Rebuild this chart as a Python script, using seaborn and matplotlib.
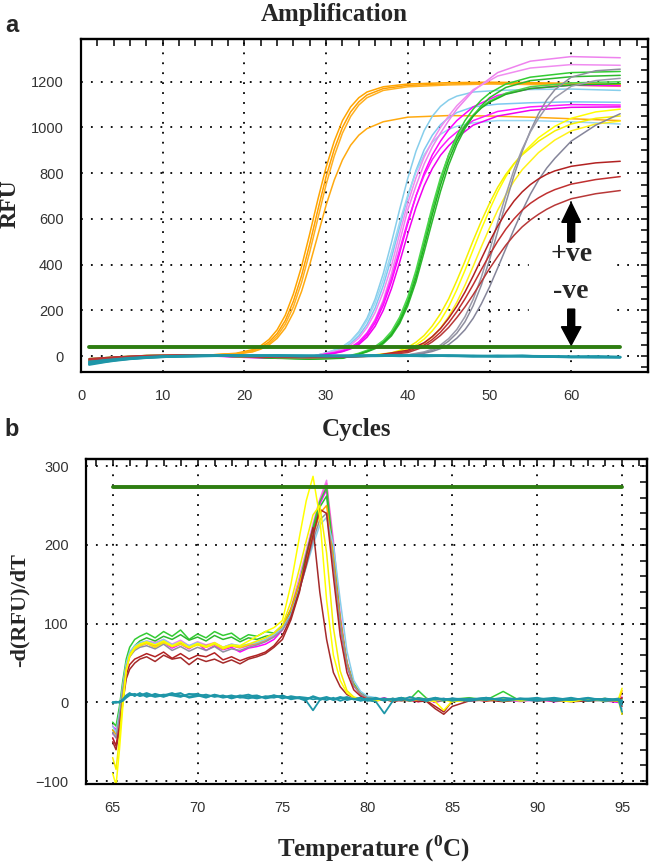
import numpy as np
import pandas as pd
import matplotlib
matplotlib.use("Agg")
import matplotlib.pyplot as plt
from matplotlib.patches import Rectangle
from matplotlib.ticker import MultipleLocator
import seaborn as sns

# ---------------- panel a : amplification (RFU vs cycle) ----------------
amp_threshold = 38
amp_span = [1, 66]

cyc_orange = [1, 4, 8, 12, 16, 19, 21, 22, 23, 24, 25, 26, 27, 28, 29, 30, 31, 32, 33, 34, 35, 37, 40, 45, 50, 55, 60, 66]
rfu_orange = [
    [-18, -8, 0, 3, 5, 12, 28, 45, 72, 114, 178, 272, 392, 535, 686, 826, 940, 1030, 1090, 1130, 1155, 1178, 1190, 1196, 1198, 1196, 1193, 1188],
    [-14, -6, 1, 4, 5, 10, 23, 38, 61, 98, 155, 240, 352, 490, 640, 785, 905, 1000, 1068, 1112, 1142, 1170, 1184, 1190, 1193, 1192, 1189, 1183],
    [-20, -10, -1, 2, 4, 9, 20, 33, 54, 87, 139, 216, 322, 455, 603, 750, 875, 975, 1048, 1098, 1130, 1162, 1178, 1186, 1190, 1188, 1185, 1180],
    [-16, -8, 0, 3, 4, 8, 18, 30, 48, 77, 122, 190, 283, 400, 530, 660, 770, 858, 922, 966, 995, 1025, 1045, 1052, 1050, 1045, 1038, 1030],
]

cyc_mid = [1, 4, 8, 12, 16, 20, 24, 28, 30, 31, 32, 33, 34, 35, 36, 37, 38, 39, 40, 41, 42, 43, 44, 45, 46, 48, 51, 55, 60, 66]
rfu_cyan = [
    [-22, -9, 0, 3, 2, -3, -6, -4, 13, 26, 41, 66, 106, 165, 249, 361, 496, 641, 778, 896, 986, 1049, 1092, 1120, 1137, 1155, 1162, 1166, 1168, 1162],
    [-18, -7, 1, 4, 3, -2, -5, -3, 12, 21, 34, 55, 88, 138, 210, 308, 430, 565, 696, 812, 902, 966, 1012, 1043, 1065, 1090, 1102, 1108, 1112, 1110],
    [-25, -10, -1, 2, 1, -4, -7, -5, 14, 25, 40, 63, 100, 155, 232, 334, 455, 585, 705, 805, 880, 935, 970, 992, 1005, 1020, 1030, 1030, 1025, 1015],
]
rfu_magenta = [
    [-20, -8, 0, 3, 2, -3, -6, -5, 9, 14, 22, 35, 60, 100, 160, 245, 360, 500, 640, 745, 840, 915, 975, 1030, 1080, 1160, 1240, 1290, 1310, 1305],
    [-16, -7, 1, 4, 3, -2, -5, -4, 12, 19, 30, 48, 78, 125, 190, 280, 395, 535, 670, 780, 870, 940, 1000, 1050, 1095, 1165, 1225, 1260, 1275, 1272],
    [-14, -6, 1, 3, 2, -4, -8, -7, 8, 13, 21, 34, 56, 92, 145, 222, 325, 450, 580, 700, 800, 880, 940, 990, 1030, 1090, 1140, 1170, 1185, 1182],
    [-18, -8, 0, 2, 1, -5, -9, -8, 9, 15, 24, 38, 62, 100, 155, 235, 340, 465, 590, 700, 790, 860, 910, 950, 980, 1030, 1070, 1090, 1100, 1098],
    [-22, -10, -1, 2, 0, -6, -10, -9, 7, 12, 19, 31, 50, 82, 130, 200, 295, 410, 535, 650, 745, 820, 878, 920, 955, 1010, 1050, 1075, 1088, 1090],
]

cyc_green = [1, 4, 8, 12, 16, 20, 24, 28, 32, 34, 35, 36, 37, 38, 39, 40, 41, 42, 43, 44, 45, 46, 47, 48, 49, 50, 52, 55, 60, 66]
rfu_green = [
    [-15, -6, 1, 3, 2, -2, -8, -12, -8, 10, 22, 38, 62, 100, 160, 245, 360, 500, 640, 770, 880, 965, 1030, 1080, 1120, 1150, 1190, 1220, 1240, 1245],
    [-18, -8, 0, 2, 1, -3, -9, -14, -10, 7, 18, 32, 54, 88, 142, 220, 325, 455, 590, 720, 835, 925, 995, 1050, 1095, 1130, 1175, 1205, 1222, 1228],
    [-12, -5, 2, 4, 3, -1, -6, -10, -6, 12, 25, 42, 68, 108, 170, 258, 375, 515, 655, 780, 880, 955, 1010, 1055, 1090, 1115, 1150, 1178, 1195, 1200],
    [-20, -9, -1, 2, 1, -4, -10, -13, -9, 8, 20, 35, 58, 94, 150, 232, 342, 478, 618, 748, 858, 942, 1005, 1050, 1085, 1110, 1145, 1170, 1185, 1192],
]

cyc_yellow = [1, 4, 8, 12, 16, 20, 24, 28, 32, 36, 38, 39, 40, 41, 42, 43, 44, 45, 46, 47, 48, 49, 50, 51, 52, 53, 54, 56, 58, 60, 63, 66]
rfu_yellow = [
    [-15, -6, 1, 3, 2, -2, -5, -6, -4, 2, 10, 18, 30, 48, 74, 110, 155, 215, 290, 375, 465, 555, 640, 718, 785, 840, 885, 955, 1005, 1040, 1068, 1080],
    [-12, -5, 2, 4, 3, -1, -4, -5, -2, 5, 14, 24, 38, 60, 90, 132, 185, 250, 330, 415, 505, 590, 668, 738, 795, 842, 880, 940, 985, 1015, 1040, 1050],
    [-18, -8, 0, 2, 1, -3, -6, -7, -5, 0, 7, 13, 22, 36, 56, 84, 122, 172, 235, 310, 392, 478, 560, 638, 705, 765, 815, 890, 945, 985, 1015, 1028],
]

cyc_late = [1, 4, 8, 12, 16, 20, 24, 28, 32, 36, 40, 42, 43, 44, 45, 46, 47, 48, 49, 50, 51, 52, 53, 54, 55, 56, 57, 58, 60, 63, 66]
rfu_gray = [
    [-15, -6, 1, 3, 2, -2, -5, -6, -4, 0, 4, 15, 25, 40, 65, 100, 150, 220, 310, 420, 545, 670, 790, 895, 985, 1060, 1120, 1165, 1220, 1248, 1255],
    [-12, -5, 2, 4, 3, -1, -4, -5, -3, 1, 5, 18, 30, 48, 76, 116, 172, 248, 345, 460, 585, 705, 815, 905, 980, 1040, 1090, 1130, 1180, 1205, 1215],
    [-18, -8, 0, 2, 1, -3, -6, -7, -5, -1, 3, 12, 20, 32, 50, 78, 115, 165, 228, 302, 385, 470, 555, 635, 708, 770, 822, 865, 940, 1010, 1060],
]
rfu_red = [
    [-15, -6, 1, 3, 2, -2, -5, -6, -4, 2, 25, 58, 85, 120, 165, 218, 280, 350, 425, 500, 568, 628, 678, 718, 750, 775, 795, 810, 830, 845, 852],
    [-12, -5, 2, 4, 3, -1, -4, -5, -3, 1, 20, 48, 72, 104, 145, 194, 250, 312, 378, 442, 502, 555, 600, 638, 668, 692, 712, 728, 752, 772, 785],
    [-18, -8, 0, 2, 1, -3, -6, -7, -5, 0, 15, 40, 62, 90, 125, 168, 215, 268, 325, 382, 435, 485, 528, 565, 595, 620, 642, 660, 688, 710, 724],
]

cyc_neg = [1, 2, 3, 4, 5, 6, 8, 10, 12, 15, 18, 21, 24, 27, 30, 33, 36, 39, 42, 45, 48, 51, 54, 57, 60, 63, 66]
rfu_neg = [
    [-38, -32, -26, -21, -17, -13, -8, -4, -2, 0, 2, 1, 3, 0, 2, -1, 1, 3, 0, 2, -1, 1, 0, -2, -4, -3, -5],
    [-30, -26, -22, -18, -14, -11, -6, -3, -1, 1, 3, 2, 0, 2, -1, 1, 3, 0, 2, 1, 0, -1, 1, -3, -5, -4, -6],
    [-25, -22, -18, -15, -12, -9, -5, -2, 0, 2, 1, 3, 1, -1, 1, 2, 0, 2, 3, 0, 1, -2, 0, -1, -3, -2, -4],
    [-34, -29, -24, -19, -15, -12, -7, -4, -2, 0, 1, 0, 2, 1, 0, -1, 2, 1, 0, 1, -1, 0, -2, -3, -4, -6, -5],
]

# ---------------- panel b : melt curve (-dRFU/dT vs temperature) ----------------
melt_threshold = 273
melt_span = [65, 95]

temp = [65.0, 65.2, 65.4, 65.6, 65.8, 66.0, 66.3, 66.6,
        67.0, 67.5, 68.0, 68.5, 69.0, 69.5, 70.0, 70.5, 71.0, 71.5, 72.0, 72.5, 73.0, 73.5, 74.0, 74.5, 75.0, 75.5, 76.0,
        76.4, 76.8, 77.2, 77.6, 78.0, 78.4, 78.8, 79.2, 79.6, 80.0,
        80.5, 81.0, 81.5, 82.0, 82.5, 83.0, 83.5, 84.0, 84.5, 85.0,
        86.0, 87.0, 88.0, 89.0, 90.0, 91.0, 92.0, 93.0, 94.0,
        94.8, 95.0]

melt_pos = [
    [-40, -45, -20, 15, 45, 60, 70, 74, 78, 76, 80, 74, 79, 72, 77, 73, 76, 70, 74, 71, 73, 75, 78, 85, 95, 120, 159,
     193, 227, 258, 282, 175, 95, 45, 20, 12, 6, 4, 5, 2, 4, 6, 3, 5, 1, 4, 3, 5, 2, 4, 1, 3, 5, 2, 4, 3, 1, 8],
    [-30, -35, -12, 20, 48, 62, 68, 72, 75, 70, 76, 69, 74, 68, 75, 66, 72, 67, 70, 64, 69, 71, 74, 80, 92, 114, 150,
     185, 220, 252, 270, 180, 100, 48, 22, 10, 5, 3, 6, 2, 5, 3, 1, 4, 0, 3, 5, 2, 4, 3, 2, 4, 1, 3, 5, 2, 0, 6],
    [-45, -55, -30, 10, 40, 58, 68, 72, 75, 73, 77, 70, 76, 71, 75, 70, 74, 68, 72, 69, 72, 74, 78, 84, 94, 116, 152,
     187, 222, 256, 278, 205, 112, 52, 23, 11, 6, 5, 3, 4, 2, 5, 3, 4, 2, 5, 3, 4, 2, 5, 3, 4, 2, 5, 3, 4, 2, 5],
    [-25, -30, -5, 28, 55, 70, 80, 84, 88, 82, 90, 84, 92, 80, 87, 82, 90, 85, 88, 80, 86, 84, 90, 88, 98, 118, 152,
     188, 222, 255, 273, 190, 105, 50, 24, 12, 7, 5, 4, 3, 6, 4, 15, 5, 2, 3, 4, 6, 3, 14, 2, 4, 3, 5, 2, 4, 1, 5],
    [-35, -40, -15, 18, 45, 62, 72, 78, 82, 78, 84, 80, 86, 79, 83, 78, 85, 80, 83, 77, 82, 80, 84, 86, 95, 116, 150,
     184, 218, 248, 262, 185, 102, 48, 22, 11, 6, 4, 5, 3, 5, 2, 6, 4, 3, 2, 5, 3, 4, 2, 3, 5, 2, 4, 3, 5, 2, 3],
    [-35, -40, -15, 20, 48, 62, 70, 74, 76, 72, 78, 71, 76, 70, 74, 72, 75, 68, 72, 70, 73, 75, 79, 86, 96, 118, 152,
     180, 212, 240, 250, 185, 105, 50, 22, 11, 6, 4, 3, 5, 2, 4, 3, 5, 2, 4, 3, 5, 2, 4, 3, 5, 2, 4, 3, 5, 2, 15],
    [-30, -38, -12, 22, 50, 64, 72, 76, 78, 74, 80, 73, 77, 72, 76, 71, 75, 70, 74, 72, 74, 76, 80, 86, 94, 112, 144,
     172, 200, 225, 235, 200, 130, 65, 28, 14, 8, 6, 4, 5, 3, 6, 4, 2, 5, 3, 4, 3, 5, 2, 4, 3, 5, 2, 4, 1, 3, -8],
    [-38, -45, -18, 16, 44, 58, 66, 70, 72, 68, 74, 66, 71, 65, 70, 66, 71, 64, 68, 66, 70, 73, 77, 83, 92, 110, 143,
     173, 206, 232, 240, 175, 100, 48, 21, 11, 6, 4, 3, 5, 2, 4, 3, 5, 2, 4, 3, 2, 4, 3, 5, 2, 4, 3, 5, 2, 4, 3],
    [-45, -55, -30, 5, 35, 48, 55, 58, 62, 58, 64, 56, 62, 55, 60, 58, 63, 54, 58, 53, 57, 60, 64, 72, 85, 108, 142,
     175, 212, 245, 240, 160, 85, 38, 16, 8, 4, 3, 5, 2, 4, 3, 1, 2, -5, -12, 2, 4, 2, 5, 3, 4, 2, 3, 5, 2, 3, 6],
    [-50, -60, -35, 0, 30, 42, 50, 55, 58, 52, 60, 55, 57, 48, 56, 52, 55, 50, 54, 49, 55, 58, 62, 70, 80, 105, 140,
     185, 222, 140, 80, 38, 20, 10, 6, 4, 3, 2, 4, 1, 3, 2, 4, 1, -8, -15, -5, 2, 3, 1, 4, 2, 3, 1, 2, 3, 2, -5],
    [-70, -85, -45, 5, 42, 58, 68, 72, 75, 70, 76, 71, 74, 69, 73, 70, 74, 68, 72, 70, 74, 78, 82, 88, 98, 128, 170,
     205, 238, 250, 190, 95, 40, 15, 7, 4, 3, 3, 5, 2, 4, 3, 5, 2, 4, 3, 1, 3, 5, 2, 4, 3, 5, 2, 4, 3, 2, -15],
    [-90, -105, -60, -5, 40, 60, 70, 74, 77, 73, 78, 72, 77, 70, 75, 71, 76, 70, 73, 72, 78, 84, 90, 95, 104, 150, 210,
     256, 287, 235, 130, 60, 28, 12, 6, 4, 3, 2, 4, 3, 5, 2, 4, 3, 1, -10, 2, 4, 3, 5, 2, 4, 3, 1, 4, 2, 5, 18],
]
melt_neg = [
    [0, 0, 1, 3, 8, 10, 9, 11, 8, 10, 7, 11, 9, 7, 10, 8, 9, 6, 8, 7, 5, 8, 6, 9, 7, 6, 5,
     2, -10, 3, 6, 4, 7, 5, 4, 6, 3, 1, -14, 2, 4, 3, 5, 4, 6, 3, 5, 4, 6, 3, 5, 4, 6, 3, 5, 4, 3, -12],
    [0, 0, 0, 2, 6, 9, 11, 8, 10, 7, 9, 12, 8, 10, 11, 7, 9, 8, 6, 9, 7, 5, 8, 6, 9, 5, 7,
     6, 4, 5, 3, 6, 2, 5, 4, 3, 5, 4, 5, 3, 6, 2, 5, 3, 4, 5, 2, 5, 3, 6, 4, 2, 5, 3, 6, 2, 4, 2],
    [0, 1, 0, 4, 9, 12, 8, 12, 7, 11, 8, 10, 12, 6, 8, 10, 7, 9, 5, 8, 10, 6, 7, 9, 5, 8, 6,
     5, 7, 4, 6, 3, 5, 7, 4, 6, 2, 5, 3, 4, 6, 3, 5, 2, 6, 4, 5, 3, 6, 2, 5, 4, 3, 6, 2, 5, 3, 1],
    [0, 0, 1, 3, 7, 11, 10, 9, 12, 8, 10, 9, 7, 11, 9, 6, 10, 7, 9, 6, 8, 9, 5, 7, 8, 4, 6,
     3, 8, 5, 7, 4, 6, 3, 5, 2, 4, 6, 2, 5, 3, 7, 4, 2, 5, 3, 4, 2, 5, 3, 4, 6, 2, 4, 5, 3, 5, -3],
]

# colours (one per curve)
col_orange = ['#FFA500', '#FFA000', '#FFB020', '#FFAA10']
col_cyan = ['#87CEEB', '#7EC8F0', '#9AD8F2']
col_magenta = ['#EE82EE', '#F08CF0', '#FF00FF', '#FF1AFF', '#F000F0']
col_green = ['#33CC33', '#2DB82D', '#4CD64C', '#22B022']
col_yellow = ['#FFFF00', '#F5F000', '#FFF21A']
col_gray = ['#8E8E9E', '#9A9AAA', '#85859A']
col_red = ['#B22222', '#C03030', '#B83838']
col_teal = '#1E96A8'
col_melt = ['#EE82EE', '#FF00FF', '#FF55DD', '#33CC33', '#2DB82D', '#FFA500',
            '#87CEEB', '#9090A0', '#B22222', '#A52A2A', '#F5F000', '#FFFF00']
col_thr = '#2E7D12'


def long_frame(groups):
    frames, pal = [], {}
    for xs, curves, colours, tag in groups:
        for i, (ys, c) in enumerate(zip(curves, colours)):
            name = f"{tag}{i}"
            frames.append(pd.DataFrame({"x": xs, "y": ys, "curve": name}))
            pal[name] = c
    return pd.concat(frames, ignore_index=True), pal


def draw(ax, groups, lw):
    df, pal = long_frame(groups)
    sns.lineplot(data=df, x="x", y="y", hue="curve", palette=pal, estimator=None,
                 sort=False, legend=False, linewidth=lw, ax=ax)


sns.set_theme(style="white")
plt.rcParams['font.family'] = ['Liberation Sans', 'DejaVu Sans']
plt.rcParams['mathtext.fontset'] = 'custom'
plt.rcParams['mathtext.rm'] = 'Liberation Serif:bold'
plt.rcParams['mathtext.bf'] = 'Liberation Serif:bold'
serif = dict(family=['Liberation Serif', 'DejaVu Serif'], weight='bold')

fig = plt.figure(figsize=(6.5, 8.65), dpi=100)
ax1 = fig.add_axes([81 / 650, 1 - 372 / 865, 567 / 650, 333 / 865])
ax2 = fig.add_axes([86 / 650, 1 - 784 / 865, 561 / 650, 325 / 865])

# panel a curves
draw(ax1, [
    (cyc_orange, rfu_orange, col_orange, "o"),
    (cyc_mid, rfu_cyan, col_cyan, "c"),
    (cyc_mid, rfu_magenta, col_magenta, "m"),
    (cyc_green, rfu_green, col_green, "g"),
    (cyc_yellow, rfu_yellow, col_yellow, "y"),
    (cyc_late, rfu_gray, col_gray, "k"),
    (cyc_late, rfu_red, col_red, "r"),
], 1.1)
draw(ax1, [(cyc_neg, rfu_neg, [col_teal] * len(rfu_neg), "n")], 1.7)
ax1.plot(amp_span, [amp_threshold] * 2, color=col_thr, lw=2.8, zorder=4)

# panel b curves
draw(ax2, [(temp, melt_pos, col_melt, "p")], 1.1)
draw(ax2, [(temp, melt_neg, [col_teal] * len(melt_neg), "t")], 1.3)
ax2.plot(melt_span, [melt_threshold] * 2, color=col_thr, lw=2.8, zorder=4)


def style(ax, xlim, ylim, xmaj, xmin, ymaj, ymin):
    ax.set_xlim(*xlim)
    ax.set_ylim(*ylim)
    for axis, maj, mnr in [(ax.xaxis, xmaj, xmin), (ax.yaxis, ymaj, ymin)]:
        axis.set_major_locator(MultipleLocator(maj))
        axis.set_minor_locator(MultipleLocator(mnr))
    ax.set_axisbelow(True)
    ax.grid(True, which='major', color='black', lw=1.3, ls=(0, (1, 4.5)))
    ax.tick_params(which='both', direction='inout', colors='black', width=1.3,
                   labelcolor='#333333', labelsize=10.5)
    ax.tick_params(which='major', length=9, pad=8)
    ax.tick_params(which='minor', length=6)
    for s in ax.spines.values():
        s.set_linewidth(1.6)
        s.set_color('black')
    # inward ticks on the top and right frame
    top = ax.secondary_xaxis('top')
    right = ax.secondary_yaxis('right')
    for sec, axis, maj, mnr in [(top, top.xaxis, xmaj, xmin), (right, right.yaxis, ymaj, ymin)]:
        axis.set_major_locator(MultipleLocator(maj))
        axis.set_minor_locator(MultipleLocator(mnr))
        sec.tick_params(which='both', direction='in', width=1.3, length=5,
                        labeltop=False, labelright=False)
        for s in sec.spines.values():
            s.set_linewidth(1.6)


style(ax1, (0, 69.4), (-70, 1387), 10, 2, 200, 50)
style(ax2, (63.43, 96.47), (-103.5, 309), 5, 1, 100, 20)

# +ve / -ve annotation
ax1.add_patch(Rectangle((54.8, 170), 10.0, 320, color='white', zorder=2))
ax1.arrow(60, 499, 0, 171, width=0.85, head_width=2.3, head_length=85,
          length_includes_head=True, color='black', zorder=5)
ax1.arrow(60, 205, 0, -157, width=0.85, head_width=2.4, head_length=80,
          length_includes_head=True, color='black', zorder=5)
ax1.text(60, 442, '+ve', ha='center', va='center', fontsize=20, zorder=5, **serif)
ax1.text(60, 282, '-ve', ha='center', va='center', fontsize=20, zorder=5, **serif)

# labels
ax1.set_xlabel('Cycles', fontsize=18, **serif)
ax1.xaxis.set_label_coords(0.486, -0.174)
ax1.xaxis.label.set_va('center')
ax1.set_ylabel('RFU', fontsize=17, **serif)
ax1.yaxis.set_label_coords(-0.125, 0.507)
ax1.yaxis.label.set_va('center')
ax1.text(0.446, 1.075, 'Amplification', transform=ax1.transAxes, ha='center',
         va='center', fontsize=18, **serif)

ax2.set_xlabel(r'Temperature ($^{0}$C)', fontsize=18, **serif)
ax2.xaxis.set_label_coords(0.513, -0.2)
ax2.xaxis.label.set_va('center')
ax2.set_ylabel('-d(RFU)/dT', fontsize=16, **serif)
ax2.yaxis.set_label_coords(-0.119, 0.535)
ax2.yaxis.label.set_va('center')

fig.text(12 / 650, 1 - 26 / 865, 'a', fontsize=17, weight='bold', ha='center', va='center')
fig.text(12 / 650, 1 - 429 / 865, 'b', fontsize=17, weight='bold', ha='center', va='center')

fig.savefig('out.png', dpi=100)
